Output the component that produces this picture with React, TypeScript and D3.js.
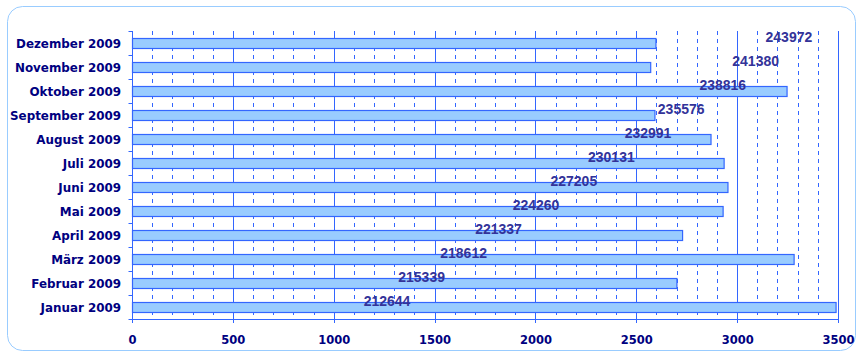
import React from "react";
import * as d3 from "d3";

const months = [
  "Januar 2009", "Februar 2009", "März 2009", "April 2009", "Mai 2009", "Juni 2009",
  "Juli 2009", "August 2009", "September 2009", "Oktober 2009", "November 2009", "Dezember 2009",
];
const barValues = [3488, 2699, 3280, 2727, 2928, 2952, 2933, 2868, 2590, 3245, 2569, 2595];
const totalLabels = [212644, 215339, 218612, 221337, 224260, 227205, 230131, 232991, 235576, 238816, 241380, 243972];
const xTicks = [0, 500, 1000, 1500, 2000, 2500, 3000, 3500];
const minorTicks = d3.range(0, 3501, 100);

const W = 865, H = 359;
const left = 132.5, right = 838.5, top = 31, bottom = 319;

export default function App() {
  const x = d3.scaleLinear().domain([0, 3500]).range([left, right]);
  const xLab = d3.scaleLinear().domain([192800, 247800]).range([left, 838]);
  const y = d3.scaleBand<string>().domain([...months].reverse()).range([top, bottom]).paddingInner(0).paddingOuter(0);
  const bw = y.bandwidth();
  const barH = 10;
  const px = (v: number) => Math.round(x(v) - 0.5) + 0.5;
  const blue = "#3366FF";
  const font = "'DejaVu Sans', Verdana, sans-serif";

  return (
    <svg width={W} height={H} style={{ position: "absolute", left: 0, top: 0 }}>
      <rect x={7.5} y={6.5} width={848} height={344} rx={15} ry={15} fill="white" stroke="#99CCFF" strokeWidth={1} />
      {minorTicks.filter(t => t % 500 !== 0).map(t => (
        <line key={"m" + t} x1={px(t)} x2={px(t)} y1={top} y2={bottom} stroke={blue} strokeWidth={1} strokeDasharray="4,4" />
      ))}
      {xTicks.map(t => (
        <line key={"M" + t} x1={px(t)} x2={px(t)} y1={top} y2={bottom + 4} stroke={blue} strokeWidth={1} />
      ))}
      <line x1={left - 4} x2={px(3500)} y1={bottom + 0.5} y2={bottom + 0.5} stroke={blue} strokeWidth={1} />
      {months.map(m => (
        <line key={"t" + m} x1={left - 4} x2={left} y1={Math.round(y(m)!) + 0.5} y2={Math.round(y(m)!) + 0.5} stroke={blue} strokeWidth={1} />
      ))}
      {months.map((m, i) => (
        <rect key={"b" + m} x={px(0)} y={Math.floor(y(m)! + bw / 2 - barH / 2) + 0.5} width={x(barValues[i]) - x(0)} height={barH}
          fill="#99CCFF" stroke={blue} strokeWidth={1.2} />
      ))}
      {months.map(m => (
        <text key={"c" + m} x={121} y={y(m)! + bw / 2 + 4.5} textAnchor="end" fontFamily={font} fontWeight="bold" fontSize={11.9} fill="#000080">{m}</text>
      ))}
      {months.map((m, i) => (
        <text key={"v" + m} x={xLab(totalLabels[i])} y={y(m)! + bw / 2 - 1} textAnchor="middle" fontFamily="'Liberation Sans', Arial, sans-serif" fontWeight="bold" fontSize={14} fill="#333399">{totalLabels[i]}</text>
      ))}
      {xTicks.map(t => (
        <text key={"x" + t} x={x(t)} y={343.5} textAnchor="middle" fontFamily={font} fontWeight="bold" fontSize={11.5} fill="#000080">{t}</text>
      ))}
    </svg>
  );
}
